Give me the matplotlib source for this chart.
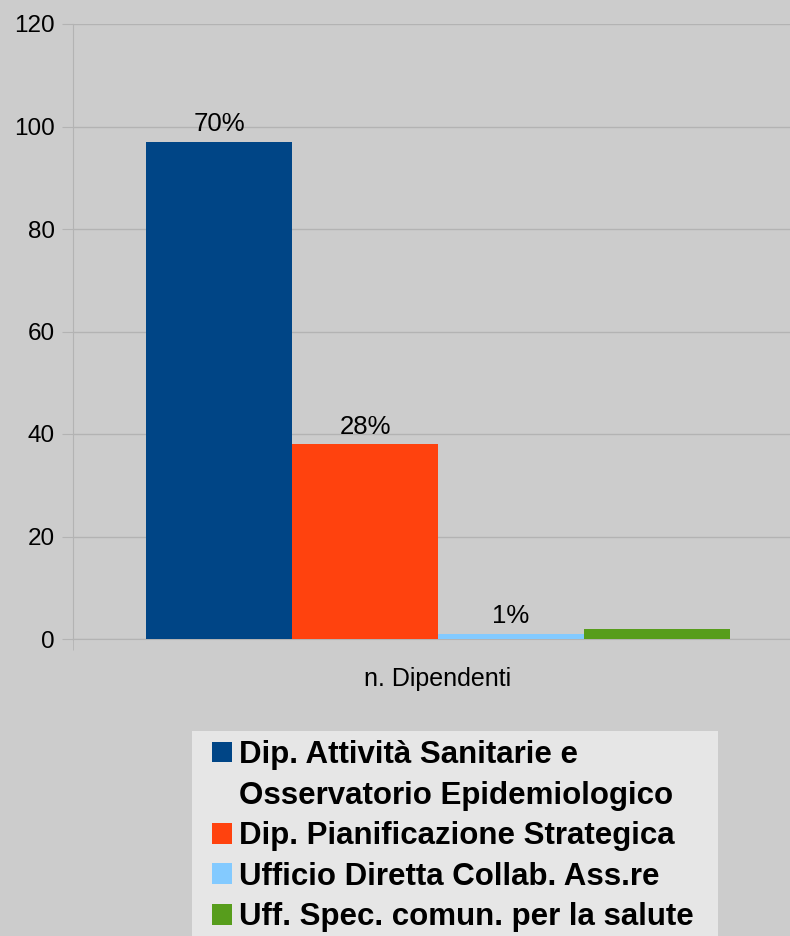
import matplotlib.pyplot as plt
from matplotlib.patches import Patch, Rectangle

# data
categories = ["Dip. Attività Sanitarie e\nOsservatorio Epidemiologico",
              "Dip. Pianificazione Strategica",
              "Ufficio Diretta Collab. Ass.re",
              "Uff. Spec. comun. per la salute"]
values = [97, 38, 1, 2]
pct_labels = ["70%", "28%", "1%", ""]
colors = ["#004586", "#ff420e", "#83caff", "#579d1c"]
group_label = "n. Dipendenti"

plt.rcParams['font.family'] = ['Liberation Sans', 'DejaVu Sans']

fig = plt.figure(figsize=(7.9, 9.36), dpi=100, facecolor="#cccccc")
ax = fig.add_axes([73/790, (936-639)/936, 730/790, 615/936])
ax.set_facecolor("#cccccc")

width = 0.2
offsets = [-0.3, -0.1, 0.1, 0.3]
for i in range(len(values)):
    b = ax.bar(offsets[i], values[i], width=width, color=colors[i], zorder=3)
    ax.bar_label(b, labels=[pct_labels[i]], padding=4, fontsize=18.5)

ax.set_xlim(-0.5, 0.5)
ax.set_ylim(0, 120)
ax.set_yticks([0, 20, 40, 60, 80, 100, 120])
ax.grid(axis='y', color="#b3b3b3", linewidth=1, zorder=0)
ax.tick_params(axis='y', length=8, color="#b3b3b3", labelsize=17.5, pad=5)
ax.set_xticks([0])
ax.set_xticklabels([group_label], fontsize=18)
ax.tick_params(axis='x', length=0, pad=20)
ax.set_xticks([-0.5], minor=True)
ax.tick_params(axis='x', which='minor', length=8, color="#b3b3b3")

for s in ['top', 'right']:
    ax.spines[s].set_visible(False)
for s in ['left', 'bottom']:
    ax.spines[s].set_color("#b3b3b3")

# legend background box (runs off the bottom like the original)
fig.patches.append(Rectangle((192/790, 0), (718-192)/790, 1 - 731/936,
                             transform=fig.transFigure, facecolor="#e6e6e6",
                             edgecolor="none", zorder=0))

# split the wrapped first label so its square sits on the first line
handles = []
labels = []
for c, lab in zip(colors, categories):
    parts = lab.split("\n")
    handles.append(Patch(facecolor=c))
    labels.append(parts[0])
    for p in parts[1:]:
        handles.append(Patch(facecolor="none", edgecolor="none"))
        labels.append(p)

leg = fig.legend(handles, labels, loc='upper left',
                 bbox_to_anchor=(212/790, 1 - 740/936),
                 prop={'weight': 'bold', 'size': 22.5},
                 frameon=False, handlelength=0.65, handleheight=0.65, handletextpad=0.2,
                 labelspacing=0.34, borderpad=0, borderaxespad=0)

fig.savefig("out.png", dpi=100, facecolor=fig.get_facecolor())
